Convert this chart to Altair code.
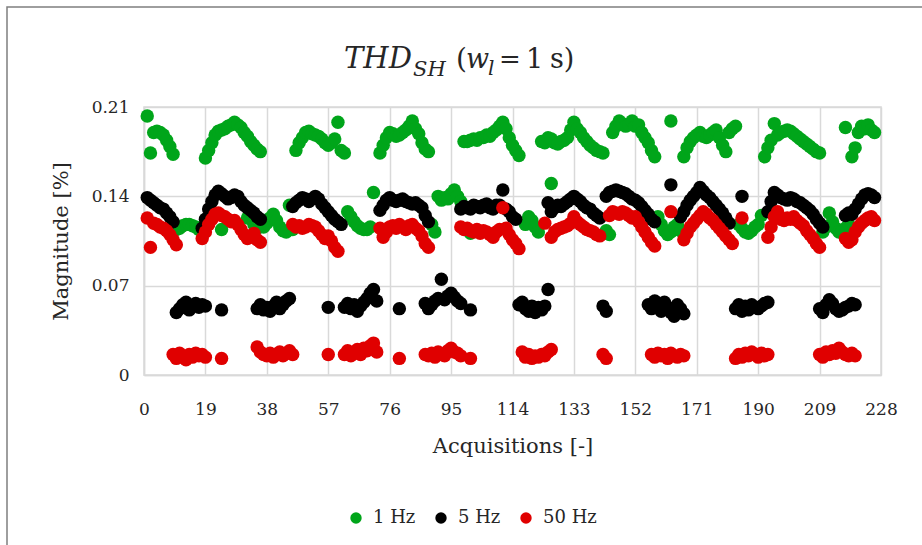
import altair as alt
import pandas as pd

# (acquisition, magnitude %) for each frequency
hz1 = [
    (1, 0.203), (2, 0.174), (3, 0.190), (4, 0.191), (5, 0.190), (6, 0.188), (7, 0.184), (8, 0.179), (9, 0.173),
    (10, 0.114), (11, 0.115), (12, 0.117), (13, 0.118), (14, 0.118), (15, 0.117), (16, 0.116), (17, 0.114),
    (19, 0.170), (20, 0.176), (21, 0.182), (22, 0.188), (23, 0.191), (24, 0.192), (24, 0.114), (25, 0.193),
    (26, 0.195), (27, 0.196), (28, 0.198), (29, 0.196), (30, 0.194), (31, 0.190), (32, 0.187), (33, 0.183),
    (34, 0.180), (35, 0.177), (36, 0.175),
    (32, 0.123), (34, 0.118), (35, 0.115), (37, 0.116), (38, 0.119), (39, 0.123), (40, 0.126), (41, 0.121),
    (42, 0.116), (43, 0.113), (44, 0.112), (45, 0.133), (46, 0.114),
    (47, 0.176), (48, 0.182), (49, 0.186), (50, 0.190), (51, 0.191), (52, 0.189), (53, 0.188), (54, 0.187),
    (55, 0.185), (56, 0.182), (57, 0.180), (58, 0.182), (59, 0.185), (60, 0.198), (61, 0.176), (62, 0.174),
    (63, 0.128), (64, 0.124), (65, 0.120), (66, 0.117), (67, 0.115), (68, 0.114), (69, 0.114), (70, 0.116), (71, 0.143),
    (73, 0.174), (74, 0.180), (75, 0.186), (76, 0.190), (77, 0.189), (78, 0.187), (79, 0.188), (80, 0.190),
    (81, 0.192), (82, 0.195), (83, 0.199), (84, 0.193), (85, 0.189), (86, 0.182), (87, 0.177), (88, 0.175),
    (89, 0.118), (90, 0.112), (91, 0.140), (92, 0.137), (93, 0.139), (94, 0.138), (95, 0.142), (96, 0.145),
    (97, 0.140), (98, 0.136),
    (99, 0.183), (100, 0.183), (101, 0.184), (101, 0.111), (102, 0.185), (103, 0.184), (104, 0.186), (105, 0.186),
    (106, 0.188), (107, 0.187), (108, 0.190), (109, 0.192), (110, 0.195), (111, 0.198), (112, 0.193), (113, 0.186),
    (114, 0.180), (115, 0.176), (116, 0.172),
    (118, 0.118), (119, 0.124), (120, 0.121), (121, 0.116), (122, 0.112), (126, 0.150),
    (123, 0.183), (124, 0.182), (125, 0.186), (126, 0.185), (127, 0.182), (128, 0.181), (129, 0.183), (130, 0.184),
    (131, 0.186), (132, 0.192), (133, 0.198), (134, 0.193), (135, 0.190), (136, 0.186), (137, 0.183), (138, 0.180),
    (139, 0.178), (140, 0.176), (141, 0.175), (142, 0.174),
    (143, 0.113), (144, 0.110),
    (145, 0.190), (146, 0.195), (147, 0.199), (148, 0.197), (149, 0.195), (150, 0.196), (151, 0.199), (152, 0.195),
    (153, 0.196), (154, 0.190), (155, 0.186), (156, 0.182), (157, 0.176), (158, 0.171),
    (159, 0.124), (160, 0.118), (161, 0.113), (162, 0.110), (163, 0.112), (164, 0.116), (165, 0.118), (166, 0.113),
    (163, 0.199),
    (167, 0.171), (168, 0.178), (169, 0.183), (170, 0.186), (171, 0.188), (172, 0.190), (173, 0.187), (174, 0.186),
    (175, 0.188), (176, 0.190), (177, 0.192), (178, 0.186), (179, 0.180), (180, 0.175), (181, 0.190), (182, 0.193),
    (183, 0.195),
    (184, 0.118), (185, 0.115), (186, 0.112), (187, 0.111), (188, 0.113), (189, 0.116), (190, 0.118), (191, 0.125),
    (192, 0.171), (193, 0.178), (194, 0.184), (195, 0.197), (196, 0.188), (197, 0.190), (198, 0.191), (199, 0.192),
    (200, 0.191), (201, 0.189), (202, 0.187), (203, 0.185), (204, 0.183), (205, 0.181), (206, 0.179), (207, 0.177),
    (208, 0.175), (209, 0.174),
    (210, 0.112), (211, 0.116), (212, 0.127), (213, 0.120), (214, 0.115), (215, 0.112), (216, 0.113), (217, 0.115),
    (218, 0.118),
    (217, 0.194), (219, 0.171), (220, 0.178), (221, 0.190), (222, 0.195), (223, 0.193), (224, 0.196), (225, 0.192),
    (226, 0.190),
]

hz5 = [
    (1, 0.139), (2, 0.137), (3, 0.135), (4, 0.133), (5, 0.131), (6, 0.130), (7, 0.127), (8, 0.124), (9, 0.120),
    (10, 0.049), (11, 0.052), (12, 0.055), (13, 0.057), (14, 0.051), (15, 0.054), (16, 0.056), (17, 0.053),
    (18, 0.055), (19, 0.054), (24, 0.051),
    (18, 0.115), (19, 0.122), (20, 0.130), (21, 0.136), (22, 0.141), (23, 0.144), (24, 0.142), (25, 0.140),
    (26, 0.138), (27, 0.139), (28, 0.141), (29, 0.140), (30, 0.136), (31, 0.133), (32, 0.131), (33, 0.129),
    (34, 0.127), (35, 0.124), (36, 0.122),
    (35, 0.052), (36, 0.055), (37, 0.051), (38, 0.053), (39, 0.050), (40, 0.054), (41, 0.057), (42, 0.052),
    (43, 0.055), (44, 0.058), (45, 0.060),
    (46, 0.132), (47, 0.135), (48, 0.137), (49, 0.139), (50, 0.138), (51, 0.136), (52, 0.138), (53, 0.140),
    (54, 0.138), (55, 0.134), (56, 0.131), (57, 0.128), (58, 0.125), (59, 0.122), (60, 0.120), (61, 0.118),
    (57, 0.053),
    (62, 0.053), (63, 0.056), (64, 0.052), (65, 0.055), (66, 0.050), (67, 0.054), (68, 0.057), (69, 0.060),
    (70, 0.064), (71, 0.067), (72, 0.058),
    (73, 0.129), (74, 0.133), (75, 0.137), (76, 0.139), (77, 0.137), (78, 0.136), (79, 0.137), (80, 0.138),
    (81, 0.136), (82, 0.135), (83, 0.134), (84, 0.135), (85, 0.133), (86, 0.131), (87, 0.125), (88, 0.120),
    (79, 0.052),
    (87, 0.056), (88, 0.052), (89, 0.055), (90, 0.058), (91, 0.060), (92, 0.075), (93, 0.059), (94, 0.062),
    (95, 0.064), (96, 0.061), (97, 0.058), (98, 0.056), (101, 0.051),
    (98, 0.130), (99, 0.132), (100, 0.131), (101, 0.130), (102, 0.133), (103, 0.132), (104, 0.131), (105, 0.133),
    (106, 0.134), (107, 0.131), (108, 0.130), (109, 0.133), (110, 0.133), (111, 0.145), (112, 0.130), (113, 0.128),
    (114, 0.124), (115, 0.122),
    (116, 0.055), (117, 0.057), (118, 0.052), (119, 0.050), (120, 0.054), (121, 0.049), (122, 0.053), (123, 0.051),
    (124, 0.054), (125, 0.067),
    (125, 0.135), (126, 0.128), (127, 0.131), (128, 0.133), (129, 0.132), (130, 0.134), (131, 0.136), (132, 0.138),
    (133, 0.140), (134, 0.138), (135, 0.136), (136, 0.133), (137, 0.131), (138, 0.130), (139, 0.127), (140, 0.125),
    (141, 0.123),
    (142, 0.054), (143, 0.050),
    (143, 0.140), (144, 0.143), (145, 0.144), (146, 0.145), (147, 0.144), (148, 0.143), (149, 0.142), (150, 0.140),
    (151, 0.138), (152, 0.137), (153, 0.135), (154, 0.132), (155, 0.129), (156, 0.126), (157, 0.122), (158, 0.120),
    (163, 0.149),
    (156, 0.055), (157, 0.052), (158, 0.058), (159, 0.054), (160, 0.050), (161, 0.057), (162, 0.053), (163, 0.049),
    (164, 0.046), (165, 0.055), (166, 0.052), (167, 0.048),
    (166, 0.124), (167, 0.128), (168, 0.133), (169, 0.137), (170, 0.140), (171, 0.143), (172, 0.147), (173, 0.144),
    (174, 0.141), (175, 0.139), (176, 0.136), (177, 0.133), (178, 0.130), (179, 0.127), (180, 0.123), (181, 0.119),
    (185, 0.140),
    (183, 0.052), (184, 0.055), (185, 0.050), (186, 0.054), (187, 0.051), (188, 0.055), (189, 0.053), (190, 0.052),
    (191, 0.054), (192, 0.056), (193, 0.057),
    (193, 0.128), (194, 0.136), (195, 0.143), (196, 0.141), (197, 0.139), (198, 0.138), (199, 0.137), (200, 0.139),
    (201, 0.138), (202, 0.136), (203, 0.135), (204, 0.133), (205, 0.131), (206, 0.129), (207, 0.126), (208, 0.122),
    (209, 0.119), (210, 0.116),
    (209, 0.052), (210, 0.049), (211, 0.055), (212, 0.059), (213, 0.056), (214, 0.052), (215, 0.050), (216, 0.051),
    (217, 0.053), (218, 0.054), (219, 0.056), (220, 0.055),
    (217, 0.125), (218, 0.127), (219, 0.126), (220, 0.130), (221, 0.134), (222, 0.138), (223, 0.141), (224, 0.142),
    (225, 0.141), (226, 0.139),
]

hz50 = [
    (1, 0.123), (2, 0.100), (3, 0.119), (4, 0.118), (5, 0.116), (6, 0.115), (7, 0.113), (8, 0.110), (9, 0.106),
    (10, 0.102),
    (9, 0.016), (10, 0.013), (11, 0.017), (12, 0.015), (13, 0.012), (14, 0.016), (15, 0.014), (16, 0.017),
    (17, 0.015), (18, 0.016), (19, 0.014), (24, 0.013),
    (18, 0.107), (19, 0.112), (20, 0.118), (21, 0.122), (22, 0.126), (23, 0.127), (24, 0.125), (25, 0.124),
    (26, 0.122), (27, 0.120), (28, 0.121), (29, 0.118), (30, 0.114), (31, 0.110), (32, 0.107), (33, 0.109),
    (34, 0.111), (35, 0.106), (36, 0.104),
    (35, 0.022), (36, 0.018), (37, 0.016), (38, 0.015), (39, 0.017), (40, 0.014), (41, 0.016), (42, 0.018),
    (43, 0.015), (44, 0.017), (45, 0.019), (46, 0.016),
    (46, 0.118), (47, 0.116), (48, 0.117), (49, 0.115), (50, 0.116), (51, 0.118), (52, 0.117), (53, 0.116),
    (54, 0.113), (55, 0.110), (56, 0.107), (57, 0.109), (58, 0.105), (59, 0.100), (60, 0.097),
    (57, 0.016),
    (62, 0.016), (63, 0.019), (64, 0.015), (65, 0.018), (66, 0.020), (67, 0.016), (68, 0.021), (69, 0.019),
    (70, 0.023), (71, 0.025), (72, 0.018),
    (73, 0.115), (74, 0.108), (75, 0.112), (76, 0.116), (77, 0.117), (78, 0.115), (79, 0.118), (80, 0.116),
    (81, 0.114), (82, 0.117), (83, 0.118), (84, 0.115), (85, 0.113), (86, 0.109), (87, 0.103), (88, 0.100),
    (79, 0.013),
    (87, 0.016), (88, 0.015), (89, 0.017), (90, 0.014), (91, 0.018), (92, 0.016), (93, 0.015), (94, 0.019),
    (95, 0.021), (96, 0.018), (97, 0.017), (98, 0.015), (101, 0.013),
    (98, 0.116), (99, 0.114), (100, 0.115), (101, 0.113), (102, 0.112), (103, 0.114), (104, 0.111), (105, 0.113),
    (106, 0.112), (107, 0.110), (108, 0.108), (109, 0.112), (110, 0.114), (111, 0.131), (112, 0.115), (113, 0.110),
    (114, 0.106), (115, 0.103), (116, 0.099),
    (117, 0.018), (118, 0.014), (119, 0.016), (120, 0.013), (121, 0.015), (122, 0.014), (123, 0.016), (124, 0.015),
    (125, 0.018), (126, 0.020),
    (124, 0.119), (126, 0.108), (127, 0.112), (128, 0.114), (129, 0.115), (130, 0.116), (131, 0.117), (132, 0.119),
    (133, 0.124), (134, 0.120), (135, 0.118), (136, 0.116), (137, 0.114), (138, 0.113), (139, 0.112), (140, 0.110),
    (141, 0.109),
    (142, 0.016), (143, 0.013),
    (144, 0.125), (145, 0.128), (146, 0.127), (147, 0.126), (148, 0.128), (149, 0.127), (150, 0.125), (151, 0.123),
    (152, 0.124), (153, 0.120), (154, 0.116), (155, 0.112), (156, 0.108), (157, 0.104), (158, 0.101),
    (163, 0.128),
    (157, 0.016), (158, 0.014), (159, 0.017), (160, 0.015), (161, 0.016), (162, 0.013), (163, 0.017), (164, 0.015),
    (165, 0.014), (166, 0.016), (167, 0.015),
    (167, 0.106), (168, 0.111), (169, 0.116), (170, 0.119), (171, 0.122), (172, 0.125), (173, 0.128), (174, 0.126),
    (175, 0.123), (176, 0.121), (177, 0.118), (178, 0.115), (179, 0.112), (180, 0.109), (181, 0.106), (182, 0.103),
    (185, 0.123),
    (183, 0.013), (184, 0.016), (185, 0.014), (186, 0.017), (187, 0.015), (188, 0.018), (189, 0.016), (190, 0.014),
    (191, 0.017), (192, 0.015), (193, 0.016),
    (193, 0.108), (194, 0.116), (195, 0.124), (196, 0.128), (197, 0.122), (198, 0.121), (199, 0.123), (200, 0.122),
    (201, 0.124), (202, 0.121), (203, 0.119), (204, 0.117), (205, 0.113), (206, 0.110), (207, 0.107), (208, 0.103),
    (209, 0.100),
    (209, 0.016), (210, 0.014), (211, 0.018), (212, 0.016), (213, 0.019), (214, 0.017), (215, 0.021), (216, 0.018),
    (217, 0.016), (218, 0.015), (219, 0.017), (220, 0.015),
    (217, 0.107), (218, 0.104), (219, 0.106), (220, 0.112), (221, 0.116), (222, 0.119), (223, 0.121), (224, 0.123),
    (225, 0.124), (226, 0.121),
]

series_names = ["1 Hz", "5 Hz", "50 Hz"]
series_colors = ["#00A51A", "#000000", "#E00000"]
x_ticks = [0, 19, 38, 57, 76, 95, 114, 133, 152, 171, 190, 209, 228]
y_ticks = [0, 0.07, 0.14, 0.21]

rows = []
for name, pts in zip(series_names, [hz1, hz5, hz50]):
    for acq, val in pts:
        rows.append({"Acquisition": acq, "Magnitude": val, "Series": name})
df = pd.DataFrame(rows)

SERIF = "DejaVu Serif"
TEXT = "#262626"
GRID = "#d9d9d9"

W, H = 737, 268
LEFT, TOP = 144, 107

points = alt.Chart(df).mark_circle(size=180, opacity=1).encode(
    x=alt.X(
        "Acquisition:Q",
        scale=alt.Scale(domain=[0, 228], nice=False, zero=False),
        axis=alt.Axis(
            values=x_ticks, title="Acquisitions [-]", ticks=False, tickSize=0,
            labelFlush=False, labelPadding=26, titlePadding=18,
            domainColor=GRID, domainWidth=1.5, gridColor=GRID, gridWidth=1.5,
        ),
    ),
    y=alt.Y(
        "Magnitude:Q",
        scale=alt.Scale(domain=[0, 0.21], nice=False),
        axis=alt.Axis(
            values=y_ticks, format="~g", title="Magnitude [%]", ticks=False, tickSize=0,
            labelFlush=False, labelPadding=15, titlePadding=20,
            domainColor=GRID, domainWidth=1.5, gridColor=GRID, gridWidth=1.5,
        ),
    ),
    color=alt.Color(
        "Series:N",
        scale=alt.Scale(domain=series_names, range=series_colors),
        legend=alt.Legend(
            title=None, orient="none", direction="horizontal",
            legendX=203, legendY=402, symbolType="circle", symbolSize=130,
            symbolStrokeWidth=0, labelFont=SERIF, labelFontSize=18, labelColor=TEXT,
            labelOffset=8, columnPadding=16,
        ),
    ),
)

one = alt.Data(values=[{}])

def title_piece(text, x, y, size, italic=True):
    return alt.Chart(one).mark_text(
        text=text, align="left", baseline="alphabetic", font=SERIF,
        fontSize=size, fontStyle="italic" if italic else "normal", color=TEXT,
    ).encode(x=alt.value(x - LEFT), y=alt.value(y - TOP))

title_parts = [
    title_piece("THD", 344, 68, 29),
    title_piece("SH", 413, 76, 21),
    title_piece("(", 456, 68, 28, italic=False),
    title_piece("w", 466, 68, 27),
    title_piece("l", 488, 75, 20),
    title_piece("=", 499, 68, 26, italic=False),
    title_piece("1", 526, 68, 27, italic=False),
    title_piece("s)", 550, 68, 27, italic=False),
]

frame = alt.Chart(one).mark_rect(
    fill=None, stroke="#7f7f7f", strokeWidth=1.5
).encode(
    x=alt.value(7 - LEFT), x2=alt.value(930 - LEFT),
    y=alt.value(7 - TOP), y2=alt.value(560 - TOP),
)

chart = alt.layer(frame, points, *title_parts).properties(
    width=W, height=H,
    padding={"left": LEFT, "top": TOP, "right": 922 - LEFT - W, "bottom": 545 - TOP - H},
    autosize=alt.AutoSizeParams(type="none"),
    background="white",
).configure_view(
    stroke=GRID, strokeWidth=1.5
).configure_axis(
    labelFont=SERIF, labelFontSize=17, labelColor=TEXT,
    titleFont=SERIF, titleFontSize=21, titleFontWeight="normal", titleColor=TEXT,
)

chart.save("out.html", embed_options={"renderer": "svg", "actions": False})
